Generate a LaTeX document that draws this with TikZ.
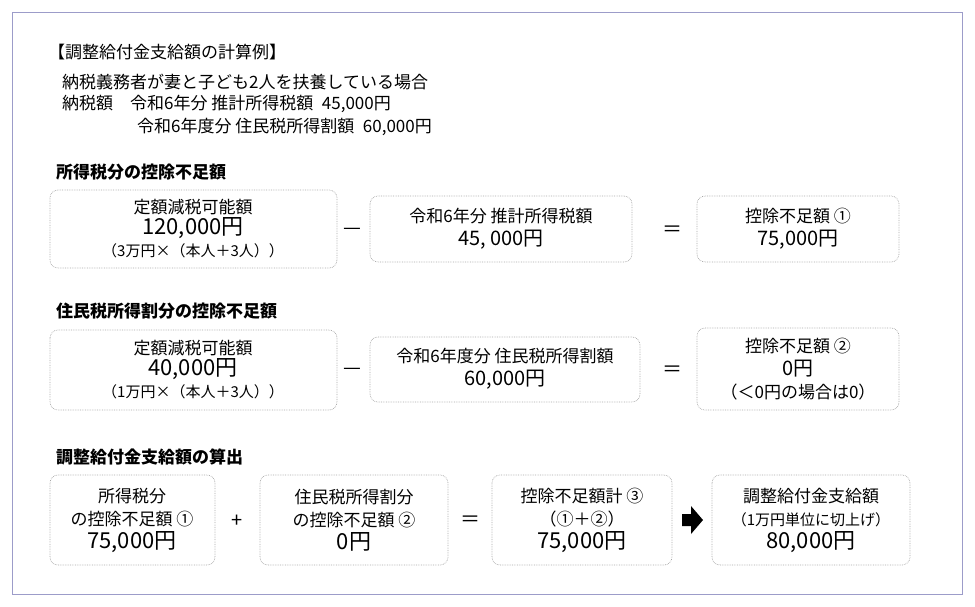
\documentclass[tikz,border=0pt]{standalone}
\usepackage{fontspec}
\setmainfont{Noto Sans CJK JP}
\begin{document}
\begin{tikzpicture}[x=1pt,y=-1pt,
 bx/.style={draw=gray!70,densely dotted,rounded corners=8pt,line width=0.7pt},
 t/.style={font=\fontsize{17}{23}\selectfont,align=center,inner sep=0},
 h/.style={font=\fontsize{17}{20}\selectfont\bfseries,anchor=west,inner sep=0},
 tl/.style={font=\fontsize{17}{20}\selectfont,anchor=west,inner sep=0},
 op/.style={font=\fontsize{20}{22}\selectfont,inner sep=0}]
\useasboundingbox (0,0) rectangle (975,606);
\draw[gray!70!blue!60,line width=0.6pt] (12,12) rectangle (962,594);
\node[tl] (a) at (48,52) {【調整給付金支給額の計算例】};
\node[tl] (b) at (62,82) {納税義務者が妻と子ども2人を扶養している場合};
\node[tl] (c) at (62,104) {納税額\quad 令和6年分 推計所得税額\enspace 45,000円};
\node[tl] (d) at (137,127) {令和6年度分 住民税所得割額\enspace 60,000円};
\node[h] (h1) at (56,172) {所得税分の控除不足額};
\node[h] (h2) at (56,311) {住民税所得割分の控除不足額};
\node[h] (h3) at (56,457) {調整給付金支給額の算出};
% row1
\draw[bx] (50,190) rectangle (337,268);
\node[t] (r1a) at (193,229) {定額減税可能額\\[-2pt]{\fontsize{22}{24}\selectfont 120,000円}\\[-1pt]{\fontsize{15}{17}\selectfont（3万円×（本人＋3人））}};
\node[op] (m1) at (352,231) {—};
\draw[bx] (370,196) rectangle (632,262);
\node[t] (r1b) at (501,229) {令和6年分 推計所得税額\\{\fontsize{20}{22}\selectfont 45, 000円}};
\node[op] (e1) at (672,231) {＝};
\draw[bx] (697,196) rectangle (899,262);
\node[t] (r1c) at (798,229) {控除不足額 ①\\{\fontsize{20}{22}\selectfont 75,000円}};
% row2
\draw[bx] (50,330) rectangle (337,410);
\node[t] (r2a) at (193,370) {定額減税可能額\\[-2pt]{\fontsize{22}{24}\selectfont 40,000円}\\[-1pt]{\fontsize{15}{17}\selectfont（1万円×（本人＋3人））}};
\node[op] (m2) at (352,371) {—};
\draw[bx] (370,337) rectangle (640,402);
\node[t] (r2b) at (505,369) {令和6年度分 住民税所得割額\\{\fontsize{20}{22}\selectfont 60,000円}};
\node[op] (e2) at (672,371) {＝};
\draw[bx] (697,328) rectangle (899,410);
\node[t] (r2c) at (798,369) {控除不足額 ②\\{\fontsize{20}{22}\selectfont 0円}\\（＜0円の場合は0）};
% row3
\draw[bx] (50,475) rectangle (215,565);
\node[t] (r3a) at (132,520) {所得税分\\の控除不足額 ①\\{\fontsize{22}{24}\selectfont 75,000円}};
\node[op] (p3) at (237,521) {+};
\draw[bx] (260,475) rectangle (448,565);
\node[t] (r3b) at (354,520) {住民税所得割分\\の控除不足額 ②\\{\fontsize{22}{24}\selectfont 0円}};
\node[op] (e3) at (470,521) {＝};
\draw[bx] (492,475) rectangle (672,565);
\node[t] (r3c) at (582,520) {控除不足額計 ③\\（①＋②）\\{\fontsize{22}{24}\selectfont 75,000円}};
\fill (682,514) -- (691,514) -- (691,506) -- (703,520) -- (691,534) -- (691,526) -- (682,526) -- cycle;
\draw[bx] (712,475) rectangle (910,565);
\node[t] (r3d) at (811,520) {調整給付金支給額\\{\fontsize{15}{17}\selectfont（1万円単位に切上げ）}\\{\fontsize{22}{24}\selectfont 80,000円}};
\end{tikzpicture}
\end{document}
